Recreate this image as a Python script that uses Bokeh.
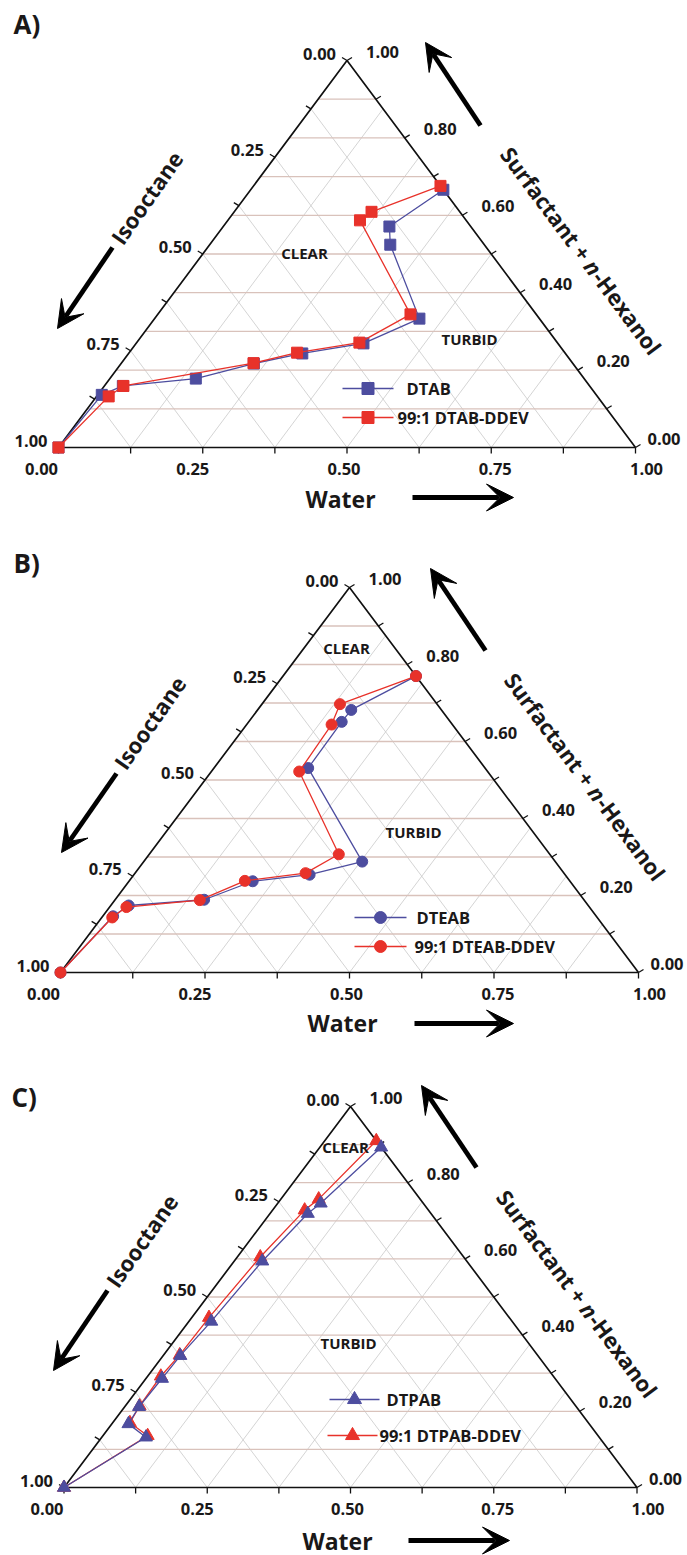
import math
from bokeh.plotting import figure
from bokeh.layouts import column
from bokeh.models import Range1d, Arrow, VeeHead
from bokeh.core.properties import value
from bokeh.embed import file_html
from bokeh.resources import INLINE

# ---------------- data: mass fractions (isooctane = 1 - water - surfactant) ----------------
# Panel A
dtab_water = [0.000, 0.007, 0.032, 0.149, 0.230, 0.301, 0.394, 0.459, 0.313, 0.288, 0.334]
dtab_surf = [0.000, 0.136, 0.159, 0.178, 0.217, 0.243, 0.269, 0.333, 0.524, 0.571, 0.666]
dtab_ddev_water = [0.000, 0.021, 0.033, 0.229, 0.291, 0.386, 0.438, 0.229, 0.238, 0.324]
dtab_ddev_surf = [0.000, 0.132, 0.159, 0.218, 0.245, 0.271, 0.344, 0.587, 0.609, 0.676]
# Panel B
dteab_water = [0.000, 0.018, 0.031, 0.154, 0.214, 0.304, 0.378, 0.163, 0.161, 0.162, 0.230]
dteab_surf = [0.000, 0.146, 0.174, 0.189, 0.237, 0.254, 0.288, 0.531, 0.651, 0.682, 0.770]
dteab_ddev_water = [0.000, 0.018, 0.029, 0.147, 0.200, 0.295, 0.328, 0.152, 0.147, 0.135, 0.230]
dteab_ddev_surf = [0.000, 0.143, 0.170, 0.188, 0.238, 0.258, 0.307, 0.522, 0.644, 0.697, 0.770]
# Panel C
dtpab_water = [0.000, 0.077, 0.029, 0.025, 0.028, 0.030, 0.039, 0.049, 0.066, 0.075, 0.107]
dtpab_surf = [0.000, 0.132, 0.167, 0.212, 0.286, 0.346, 0.436, 0.594, 0.719, 0.746, 0.893]
dtpab_ddev_water = [0.000, 0.078, 0.030, 0.025, 0.023, 0.028, 0.030, 0.040, 0.056, 0.066, 0.090]
dtpab_ddev_surf = [0.000, 0.136, 0.170, 0.214, 0.292, 0.348, 0.446, 0.605, 0.728, 0.757, 0.910]

# ---------------- axes ----------------
iso_ticks = [0.0, 0.25, 0.50, 0.75, 1.0]
iso_labels = ["0.00", "0.25", "0.50", "0.75", "1.00"]
water_ticks = [0.0, 0.25, 0.50, 0.75, 1.0]
water_labels = ["0.00", "0.25", "0.50", "0.75", "1.00"]
surf_ticks = [0.0, 0.2, 0.4, 0.6, 0.8, 1.0]
surf_labels = ["0.00", "0.20", "0.40", "0.60", "0.80", "1.00"]
minor_iso = [k / 8 for k in range(9)]
minor_water = [k / 8 for k in range(9)]
minor_surf = [k / 10 for k in range(11)]

FONT = "Open Sans"
BLUE = "#4d4d9f"
RED = "#e8322a"
INK = "#1a1818"

panels = [
    dict(letter="A)", H=520, x0=58, x1=635, yb=447, ya=60,
         series=[("DTAB", dtab_water, dtab_surf, BLUE, "square", 11),
                 ("99:1 DTAB-DDEV", dtab_ddev_water, dtab_ddev_surf, RED, "square", 11)],
         letter_pos=(13, 23), clear=(304, 252), turbid=(469, 338),
         iso=(146, 197), surf=(581, 250), water=(340, 498),
         arr_l=((112, 247), (57, 328)), arr_t=((480, 125), (425, 42)), arr_b=((412, 497), (513, 497)),
         leg=[(342, 393, 388, 406), (342, 393, 417, 397)]),
    dict(letter="B)", H=520, x0=60, x1=638, yb=452, ya=67,
         series=[("DTEAB", dteab_water, dteab_surf, BLUE, "circle", 11),
                 ("99:1 DTEAB-DDEV", dteab_ddev_water, dteab_ddev_surf, RED, "circle", 11)],
         letter_pos=(13, 42), clear=(346, 127), turbid=(413, 311),
         iso=(149, 202), surf=(585, 256), water=(342, 502),
         arr_l=((116, 253), (61, 332)), arr_t=((485, 130), (430, 48)), arr_b=((414, 503), (513, 503)),
         leg=[(354, 406, 397, 416), (354, 406, 426, 414)]),
    dict(letter="C)", H=515, x0=63.5, x1=636.5, yb=447, ya=66,
         series=[("99:1 DTPAB-DDEV", dtpab_ddev_water, dtpab_ddev_surf, RED, "triangle", 13),
                 ("DTPAB", dtpab_water, dtpab_surf, BLUE, "triangle", 13)],
         letter_pos=(11, 56), clear=(345, 106), turbid=(348, 302),
         iso=(141, 200), surf=(577, 253), water=(337, 500),
         arr_l=((107, 250), (53, 330)), arr_t=((476, 127), (421, 45)), arr_b=((408, 500), (509, 500)),
         leg=[(329, 379, 359, 386), (327, 377, 395, 379)]),
]


def tern(w, s):
    return [wi + si / 2 for wi, si in zip(w, s)], list(s)


def make_panel(cfg):
    H, x0, x1, yb, ya = cfg["H"], cfg["x0"], cfg["x1"], cfg["yb"], cfg["ya"]
    sx = x1 - x0
    sy = yb - ya
    p = figure(width=687, height=H,
               x_range=Range1d(-x0 / sx, (687 - x0) / sx),
               y_range=Range1d((yb - H) / sy, yb / sy),
               output_backend="svg", toolbar_location=None,
               x_axis_location=None, y_axis_location=None, min_border=0)
    p.grid.visible = False
    p.outline_line_color = None
    p.background_fill_color = "white"
    p.border_fill_color = "white"

    def P(x, y):  # local pixel -> data
        return (x - x0) / sx, (yb - y) / sy

    def off(xd, yd, dx, dy):  # shift a data point by screen pixels (dy down)
        return xd + dx / sx, yd - dy / sy

    # grid: horizontal (surfactant) lines every 0.1
    hx, hy = [], []
    for s in minor_surf[1:-1]:
        hx.append([s / 2, 1 - s / 2])
        hy.append([s, s])
    # diagonal lines every 0.125
    gx, gy = [], []
    for t in minor_water[1:-1]:
        gx.append([t, t + (1 - t) / 2]); gy.append([0, 1 - t])
    for t in minor_iso[1:-1]:
        gx.append([(1 - t) / 2, 1 - t]); gy.append([1 - t, 0])
    p.multi_line(gx, gy, line_color="#c9c9c9", line_width=0.8)
    p.multi_line(hx, hy, line_color="#d9c2bb", line_width=1.3)

    # frame
    p.line([0, 1, 0.5, 0], [0, 0, 1, 0], line_color="#111111", line_width=1.7)

    # ticks
    tx, ty = [], []
    for t in minor_iso:  # left edge, isooctane
        xa, ya_ = (1 - t) / 2, 1 - t
        xb, yb_ = off(xa, ya_, -5, -3)
        tx.append([xa, xb]); ty.append([ya_, yb_])
    for s in minor_surf:  # right edge
        xa, ya_ = 1 - s / 2, s
        xb, yb_ = off(xa, ya_, 5, -3)
        tx.append([xa, xb]); ty.append([ya_, yb_])
    for w in minor_water:  # bottom
        xb, yb_ = off(w, 0, 0, 6)
        tx.append([w, xb]); ty.append([0, yb_])
    p.multi_line(tx, ty, line_color="#111111", line_width=1.3)

    lab = dict(text_font=value(FONT), text_font_style="bold", text_color=INK, text_baseline="middle")

    # tick labels
    lx, ly = [], []
    for t in iso_ticks:
        a, b = off((1 - t) / 2, 1 - t, -11, -7)
        lx.append(a); ly.append(b)
    p.text(lx, ly, text=iso_labels, text_align="right", text_font_size="16.5px", **lab)
    rx, ry = [], []
    for s in surf_ticks:
        a, b = off(1 - s / 2, s, 12 if s == 0 else 19, -9)
        rx.append(a); ry.append(b)
    p.text(rx, ry, text=surf_labels, text_align="left", text_font_size="16.5px", **lab)
    bx, by = [], []
    for w in water_ticks:
        a, b = off(w, 0, (w - 0.5) * 28 - 3, 21)
        bx.append(a); by.append(b)
    p.text(bx, by, text=water_labels, text_align="center", text_font_size="16.5px", **lab)

    # data series
    for name, w, s, color, marker, size in cfg["series"]:
        xs, ys = tern(w, s)
        p.line(xs, ys, line_color=color, line_width=1.3)
        p.scatter(xs, ys, marker=marker, size=size, fill_color=color, line_color=color)

    # legend (manual)
    leg_series = sorted(cfg["series"], key=lambda r: r[0].startswith("99"))
    for (name, w, s, color, marker, size), (la, lb, lyy, ltx) in zip(leg_series, cfg["leg"]):
        (xa, yy), (xb, _) = P(la, lyy), P(lb, lyy)
        p.line([xa, xb], [yy, yy], line_color=color, line_width=1.3)
        p.scatter([(xa + xb) / 2], [yy], marker=marker, size=size + 1, fill_color=color, line_color=color)
        tx_, ty_ = P(ltx, lyy)
        p.text([tx_], [ty_], text=[name], text_align="left", text_font_size="16.5px", **lab)

    # region labels
    cx, cy = P(*cfg["clear"])
    p.text([cx], [cy], text=["CLEAR"], text_align="center", text_font_size="15px", **lab)
    tx_, ty_ = P(*cfg["turbid"])
    p.text([tx_], [ty_], text=["TURBID"], text_align="center", text_font_size="15px", **lab)

    # panel letter
    ax, ay = P(*cfg["letter_pos"])
    p.text([ax], [ay], text=[cfg["letter"]], text_align="left", text_font_size="26px", **lab)

    # axis titles
    ix, iy = P(*cfg["iso"])
    p.text([ix], [iy], text=["Isooctane"], angle=math.radians(55), text_align="center",
           text_font_size="22px", **lab)
    wx, wy = P(*cfg["water"])
    p.text([wx], [wy], text=["Water"], text_align="center", text_font_size="23px", **lab)

    th = math.radians(53.3)
    ux, uy = math.cos(th), math.sin(th)  # screen direction (down-right)
    segs = [("Surfactant + ", "bold", 140.0), ("n", "bold italic", 14.3), ("-Hexanol", "bold", 98.0)]
    total = sum(sg[2] for sg in segs)
    cxp, cyp = cfg["surf"]
    d = -total / 2
    for txt, style, wid in segs:
        px_, py_ = cxp + d * ux, cyp + d * uy
        qx, qy = P(px_, py_)
        p.text([qx], [qy], text=[txt], angle=-th, text_align="left", text_baseline="middle",
               text_font=value(FONT), text_font_style=style, text_font_size="22px", text_color=INK)
        d += wid

    # arrows
    for key in ("arr_l", "arr_t", "arr_b"):
        (sx0, sy0), (ex0, ey0) = cfg[key]
        xs0, ys0 = P(sx0, sy0)
        xe0, ye0 = P(ex0, ey0)
        p.add_layout(Arrow(end=VeeHead(size=27, fill_color="black", line_color="black", line_width=1),
                           x_start=xs0, y_start=ys0, x_end=xe0, y_end=ye0,
                           line_width=4.8, line_color="black"))
    return p


figs = [make_panel(c) for c in panels]
layout = column(*figs, spacing=0)
open("out.html", "w").write(file_html(layout, INLINE))
